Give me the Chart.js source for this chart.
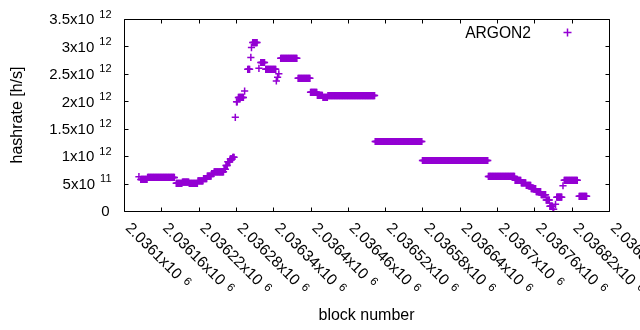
<!DOCTYPE html>
<html><head><meta charset="utf-8">
<style>html,body{margin:0;padding:0;background:#fff;}#wrap{width:640px;height:330px;}</style>
<script src="https://cdn.jsdelivr.net/npm/chart.js@4.4.1/dist/chart.umd.min.js"></script>
</head><body><div id="wrap"><canvas id="c" width="640" height="330"></canvas></div>
<script>
const seriesName = 'ARGON2';
const xTitle = 'block number';
const yTitle = 'hashrate [h/s]';
const blockBase = 2036100;
// runs of blocks (offset from blockBase) sharing one hashrate value (units of 1e12 h/s)
const runFirst = [24,27,38,84,94,105,119,128,134,141,145,161,164,167,171,175,179,181,184,194,199,204,205,207,217,220,228,245,247,249,252,280,300,311,320,328,404,480,586,629,639,647,655,663,671,679,685,690,694,696,706,708,732];
const runLast  = [24,37,81,93,104,118,127,133,140,144,160,163,166,170,174,177,179,182,192,194,202,204,205,214,217,226,244,245,247,249,278,299,310,319,327,403,479,585,628,638,646,654,662,670,678,684,689,691,694,704,706,729,744];
const runHashrateT = [0.626,0.575,0.612,0.505,0.525,0.505,0.55,0.59,0.635,0.68,0.715,0.76,0.83,0.9,0.95,0.98,1.708,1.99,2.07,2.187,2.583,2.80,2.98,3.07,2.60,2.707,2.583,2.37,2.44,2.5,2.783,2.419,2.164,2.109,2.07,2.105,1.267,0.921,0.63,0.56,0.514,0.468,0.407,0.352,0.297,0.2,0.088,0.03,0.122,0.252,0.46,0.559,0.267];
const xTickMantissa = ['2.0361','2.03616','2.03622','2.03628','2.03634','2.0364','2.03646','2.03652','2.03658','2.03664','2.0367','2.03676','2.03682','2.03688'];
const xTickExponent = '6';
const yTickMantissa = ['0','5','1','1.5','2','2.5','3','3.5'];
const yTickExponent = ['','11','12','12','12','12','12','12'];

const xTickValues = xTickMantissa.map(m => Math.round(parseFloat(m) * 1e6));
const yTickValues = yTickMantissa.map((m, i) => parseFloat(m) * Math.pow(10, yTickExponent[i] ? parseInt(yTickExponent[i]) : 0));

const points = [];
runFirst.forEach((f, i) => {
  for (let b = f; b <= runLast[i]; b++) points.push({x: blockBase + b, y: runHashrateT[i] * 1e12});
});

const FAM = '"Liberation Sans", Arial, sans-serif';
const COLOR = '#9400d3';
const MAIN = 15, SUP = 11;

const frame = {
  id: 'frame',
  afterDraw(chart) {
    const {ctx, chartArea: a, scales: {x, y}} = chart;
    ctx.save();
    ctx.strokeStyle = '#000'; ctx.lineWidth = 1;
    const L = Math.round(a.left) + 0.5, R = Math.round(a.right) + 0.5, T = Math.round(a.top) + 0.5, B = Math.round(a.bottom) + 0.5;
    ctx.beginPath();
    ctx.rect(L, T, R - L, B - T);
    const tl = 4;
    x.ticks.forEach(t => {
      const px = Math.round(x.getPixelForValue(t.value)) + 0.5;
      ctx.moveTo(px, B); ctx.lineTo(px, B - tl);
      ctx.moveTo(px, T); ctx.lineTo(px, T + tl);
    });
    y.ticks.forEach(t => {
      const py = Math.round(y.getPixelForValue(t.value)) + 0.5;
      ctx.moveTo(L, py); ctx.lineTo(L + tl, py);
      ctx.moveTo(R, py); ctx.lineTo(R - tl, py);
    });
    ctx.stroke();

    ctx.fillStyle = '#000';
    // y tick labels
    y.ticks.forEach((t, i) => {
      const py = y.getPixelForValue(t.value);
      const rx = 111.5;
      if (!yTickExponent[i]) {
        ctx.font = MAIN + 'px ' + FAM; ctx.textAlign = 'right'; ctx.textBaseline = 'alphabetic';
        ctx.fillText(yTickMantissa[i], 109.5, py + 5.3);
      } else {
        ctx.font = SUP + 'px ' + FAM; ctx.textAlign = 'right'; ctx.textBaseline = 'alphabetic';
        const ws = ctx.measureText(yTickExponent[i]).width;
        ctx.fillText(yTickExponent[i], rx, py - 1.5);
        ctx.font = MAIN + 'px ' + FAM;
        ctx.fillText(yTickMantissa[i] + 'x10', rx - ws - 5, py + 5.3);
      }
    });
    // x tick labels (rotated)
    x.ticks.forEach((t, i) => {
      const px = x.getPixelForValue(t.value);
      ctx.save();
      ctx.translate(px + 4.5, 225);
      ctx.rotate(Math.PI / 4);
      ctx.textAlign = 'left'; ctx.textBaseline = 'alphabetic';
      ctx.font = '15.5px ' + FAM;
      const main = xTickMantissa[i] + 'x10';
      ctx.fillText(main, 0, 5.4);
      const w = ctx.measureText(main).width;
      ctx.font = '11.5px ' + FAM;
      ctx.fillText(xTickExponent, w + 6, 1.8);
      ctx.restore();
    });
    // legend
    ctx.font = '15.6px ' + FAM; ctx.textAlign = 'right'; ctx.textBaseline = 'alphabetic';
    ctx.fillText(chart.data.datasets[0].label, 531, 37.5);
    ctx.strokeStyle = COLOR; ctx.lineWidth = 1.5;
    ctx.beginPath();
    ctx.moveTo(563.5, 32.5); ctx.lineTo(571.5, 32.5);
    ctx.moveTo(567.5, 28.5); ctx.lineTo(567.5, 36.5);
    ctx.stroke();
    ctx.restore();
  }
};

new Chart(document.getElementById('c'), {
  type: 'scatter',
  data: {datasets: [{label: seriesName, data: points, pointStyle: 'cross', pointRadius: 3.6, pointHoverRadius: 3.6,
    pointBorderWidth: 1.5, borderColor: COLOR, backgroundColor: COLOR}]},
  options: {
    responsive: false, animation: false, devicePixelRatio: 1,
    layout: {padding: {left: 0, right: 31, top: 19, bottom: 0}},
    plugins: {legend: {display: false}, tooltip: {enabled: false}},
    events: [],
    scales: {
      x: {type: 'linear', min: xTickValues[0], max: xTickValues[xTickValues.length - 1],
        afterBuildTicks: s => { s.ticks = xTickValues.map(v => ({value: v})); },
        afterFit: s => { s.height = 119; },
        grid: {display: false}, border: {display: false}, ticks: {display: false},
        title: {display: true, text: xTitle, color: '#000', font: {family: FAM, size: 16}, padding: {top: 0, bottom: 5}}},
      y: {type: 'linear', min: 0, max: 3.5e12,
        afterBuildTicks: s => { s.ticks = yTickValues.map(v => ({value: v})); },
        afterFit: s => { s.width = 124; },
        grid: {display: false}, border: {display: false}, ticks: {display: false},
        title: {display: true, text: yTitle, color: '#000', font: {family: FAM, size: 16}, padding: {top: 7.5, bottom: 0}}}
    }
  },
  plugins: [frame]
});
</script></body></html>
